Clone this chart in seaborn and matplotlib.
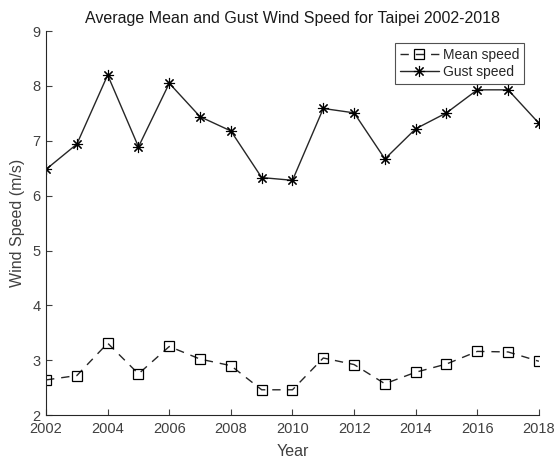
import matplotlib
matplotlib.use("Agg")
import matplotlib.pyplot as plt
import seaborn as sns
import pandas as pd

years = list(range(2002, 2019))
mean_speed = [2.64, 2.72, 3.31, 2.75, 3.25, 3.02, 2.90, 2.46, 2.46,
              3.04, 2.92, 2.57, 2.78, 2.93, 3.16, 3.15, 2.98]
gust_speed = [6.48, 6.94, 8.20, 6.89, 8.05, 7.44, 7.18, 6.33, 6.28,
              7.59, 7.51, 6.67, 7.22, 7.51, 7.93, 7.93, 7.32]
x_ticks = list(range(2002, 2019, 2))
y_ticks = list(range(2, 10))

sns.set_theme(style="white")
plt.rcParams["font.family"] = ["Liberation Sans", "DejaVu Sans"]

df = pd.DataFrame({"Year": years, "Mean speed": mean_speed, "Gust speed": gust_speed})

fig = plt.figure(figsize=(5.55, 4.65), dpi=100)
ax = fig.add_axes([0.083, 0.1075, 0.888, 0.8255])

line_col = "#262626"
sns.lineplot(data=df, x="Year", y="Mean speed", ax=ax, color=line_col,
             linewidth=1.0, marker="s", markersize=6.5, markerfacecolor="none",
             markeredgecolor="black", markeredgewidth=0.9,
             linestyle=(0, (6, 5)), label="Mean speed")
sns.lineplot(data=df, x="Year", y="Gust speed", ax=ax, color=line_col,
             linewidth=1.0, marker=(8, 2, 0), markersize=8,
             markeredgecolor="black", markeredgewidth=0.8,
             label="Gust speed")

ax.set_xlim(2002, 2018)
ax.set_ylim(2, 9)
ax.set_xticks(x_ticks)
ax.set_yticks(y_ticks)
tick_col = "#404040"
ax.tick_params(axis="both", direction="in", length=4, width=0.8,
               colors=tick_col, labelsize=10.5, labelcolor=tick_col,
               bottom=True, left=True)
ax.tick_params(axis="x", pad=5)
ax.tick_params(axis="y", pad=4)
for s in ("top", "right"):
    ax.spines[s].set_visible(False)
for s in ("left", "bottom"):
    ax.spines[s].set_color("#262626")
    ax.spines[s].set_linewidth(0.8)

ax.set_xlabel("Year", fontsize=11.5, color=tick_col, labelpad=6)
ax.set_ylabel("Wind Speed (m/s)", fontsize=11.5, color=tick_col, labelpad=5)
ax.set_title("Average Mean and Gust Wind Speed for Taipei 2002-2018",
             fontsize=11.5, color="#1a1a1a", pad=6)

leg = ax.legend(loc="upper right", bbox_to_anchor=(0.97, 0.97), frameon=True,
                fancybox=False, edgecolor="#262626", fontsize=10,
                handlelength=2.8, handletextpad=0.3, borderpad=0.35,
                labelspacing=0.25, borderaxespad=0.0)
leg.get_frame().set_linewidth(0.8)

fig.savefig("out.png", dpi=100)
